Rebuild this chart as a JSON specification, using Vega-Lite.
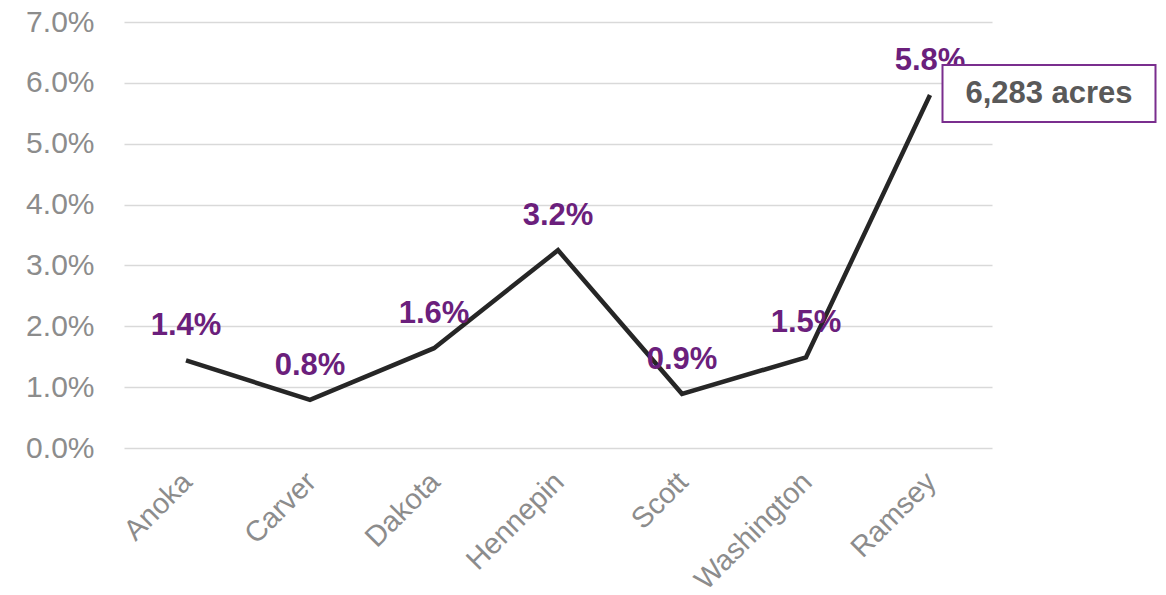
{
  "$schema": "https://vega.github.io/schema/vega-lite/v6.json",
  "autosize": "none",
  "width": 868,
  "height": 426,
  "padding": {"left": 124, "top": 22, "right": 174, "bottom": 147},
  "background": "white",
  "config": {"view": {"stroke": null}, "font": "Liberation Sans"},
  "datasets": {
    "main": [
      {"county": "Anoka", "share": 0.0144, "label": "1.4%"},
      {"county": "Carver", "share": 0.0079, "label": "0.8%"},
      {"county": "Dakota", "share": 0.0164, "label": "1.6%"},
      {"county": "Hennepin", "share": 0.0325, "label": "3.2%"},
      {"county": "Scott", "share": 0.0089, "label": "0.9%"},
      {"county": "Washington", "share": 0.0149, "label": "1.5%"},
      {"county": "Ramsey", "share": 0.058, "label": "5.8%"}
    ],
    "note": [
      {"county": "Ramsey", "share": 0.058, "note": "6,283 acres"}
    ]
  },
  "encoding": {
    "x": {
      "field": "county", "type": "nominal", "sort": null,
      "scale": {"paddingInner": 0, "paddingOuter": 0},
      "axis": {"title": null, "domain": false, "ticks": false, "labelAngle": -45, "labelFontSize": 29, "labelColor": "#8C8C8C", "labelPadding": 19, "labelOffset": -9, "labelFont": "Liberation Sans"}
    },
    "y": {
      "field": "share", "type": "quantitative",
      "scale": {"domain": [0, 0.07], "nice": false},
      "axis": {"title": null, "format": ".1%", "values": [0, 0.01, 0.02, 0.03, 0.04, 0.05, 0.06, 0.07], "domain": false, "ticks": false, "labelFontSize": 30, "labelColor": "#8C8C8C", "labelPadding": 30, "gridColor": "#D9D9D9", "gridWidth": 1.5, "labelFont": "Liberation Sans"}
    }
  },
  "layer": [
    {
      "data": {"name": "main"},
      "mark": {"type": "line", "color": "#262626", "strokeWidth": 4.5},
      "encoding": {}
    },
    {
      "data": {"name": "main"},
      "mark": {"type": "text", "color": "#6B1F7C", "fontSize": 31, "fontWeight": "bold", "dy": -25, "baseline": "alphabetic", "font": "Liberation Sans"},
      "encoding": {"text": {"field": "label"}}
    },
    {
      "data": {"name": "note"},
      "mark": {"type": "point", "shape": "M-1,-0.268L1,-0.268L1,0.268L-1,0.268Z", "size": 45369, "filled": false, "fill": "white", "fillOpacity": 1, "stroke": "#7A2E8E", "strokeWidth": 2, "opacity": 1, "xOffset": 119, "yOffset": -1.5},
      "encoding": {}
    },
    {
      "data": {"name": "note"},
      "mark": {"type": "text", "color": "#595959", "fontSize": 31, "fontWeight": "bold", "dx": 119, "dy": -1, "baseline": "middle", "align": "center", "font": "Liberation Sans"},
      "encoding": {"text": {"field": "note"}}
    }
  ]
}
